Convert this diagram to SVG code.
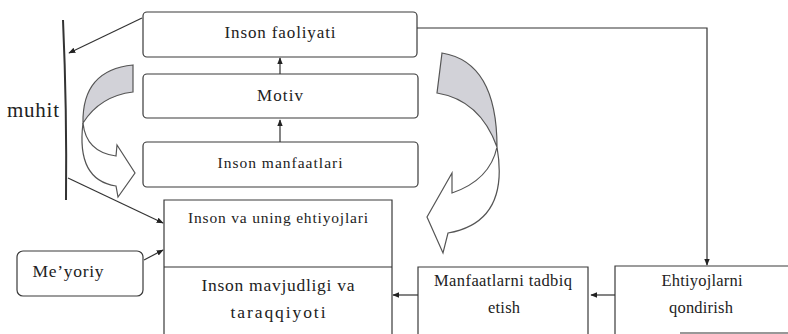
<svg xmlns="http://www.w3.org/2000/svg" width="788" height="334" viewBox="0 0 788 334">
<defs>
<style>
.box{fill:#fff;stroke:#3a3a3a;stroke-width:1.2}
.ln{fill:none;stroke:#333;stroke-width:1.2}
.t{font-family:"Liberation Serif","Times New Roman",serif;fill:#222;text-anchor:middle}
.crescent{fill:#d2d2d8;stroke:#555;stroke-width:1.2}
.curv{fill:#fff;stroke:#555;stroke-width:1.2}
</style>
<marker id="ah" viewBox="0 0 10 10" refX="9" refY="5" markerWidth="7" markerHeight="7" orient="auto" markerUnits="userSpaceOnUse">
<path d="M0,1 L10,5 L0,9 Z" fill="#222"/>
</marker>
</defs>
<rect width="788" height="334" fill="#fff"/>

<g id="muhit">
<path d="M63,20 Q67,110 66,200" fill="none" stroke="#333" stroke-width="2"/>
<text class="t" x="33" y="117" font-size="21" textLength="52" lengthAdjust="spacing">muhit</text>
</g>

<g id="inson-faoliyati">
<rect class="box" x="143" y="12" width="274" height="45" rx="4"/>
<text class="t" x="280" y="38" font-size="17" textLength="111" lengthAdjust="spacing">Inson faoliyati</text>
</g>

<g id="motiv">
<rect class="box" x="143" y="74" width="275" height="44" rx="4"/>
<text class="t" x="280" y="101" font-size="17" textLength="46" lengthAdjust="spacing">Motiv</text>
</g>

<g id="inson-manfaatlari">
<rect class="box" x="143" y="142" width="275" height="45" rx="4"/>
<text class="t" x="280" y="168" font-size="15.5" textLength="125" lengthAdjust="spacing">Inson manfaatlari</text>
</g>

<g id="inson-ehtiyojlari">
<path class="box" d="M164,340 L164,200 L392,200 L392,340"/>
<text class="t" x="278" y="223" font-size="15.5" textLength="180" lengthAdjust="spacing">Inson va uning ehtiyojlari</text>
</g>

<g id="inson-mavjudligi">
<line class="ln" x1="164" y1="267" x2="392" y2="267"/>
<text class="t" x="278" y="291" font-size="17.5" textLength="153" lengthAdjust="spacing">Inson mavjudligi va</text>
<text class="t" x="278" y="318" font-size="17.5" textLength="95" lengthAdjust="spacing">taraqqiyoti</text>
</g>

<g id="meyoriy">
<rect class="box" x="17" y="251" width="126" height="45" rx="6"/>
<text class="t" x="68" y="277" font-size="17.5" textLength="71" lengthAdjust="spacing">Meʼyoriy</text>
</g>

<g id="manfaatlarni-tadbiq">
<path class="box" d="M418,340 L418,267 L588,267 L588,340"/>
<text class="t" x="503" y="286" font-size="16.5" textLength="138" lengthAdjust="spacing">Manfaatlarni tadbiq</text>
<text class="t" x="504" y="313" font-size="16.5" textLength="32" lengthAdjust="spacing">etish</text>
</g>

<g id="ehtiyojlarni-qondirish">
<path class="box" d="M615,340 L615,266 L795,266 L795,340"/>
<line class="ln" x1="680" y1="333" x2="788" y2="333"/>
<text class="t" x="702" y="286" font-size="16.5" textLength="81" lengthAdjust="spacing">Ehtiyojlarni</text>
<text class="t" x="701" y="313" font-size="16.5" textLength="64" lengthAdjust="spacing">qondirish</text>
</g>

<g id="curved-arrow-left">
<path class="crescent" d="M133,65 L133,92 Q100,96 83,123 Q82,70 133,65 Z"/>
<path class="curv" d="M83,123 Q86,152 116,156 L117,145 L135,173 L118,197 L116,186 Q76,180 83,123 Z"/>
</g>

<g id="curved-arrow-right">
<path class="crescent" d="M442,53 L437,93 Q480,100 497,147 Q497,62 442,53 Z"/>
<path class="curv" d="M497,147 Q490,180 452,193 L452,173 L427,217 L443,253 L448,233 Q510,222 497,147 Z"/>
</g>

<g id="connectors">
<line class="ln" x1="142" y1="18" x2="69" y2="53" marker-end="url(#ah)"/>
<line class="ln" x1="68" y1="178" x2="163" y2="223" marker-end="url(#ah)"/>
<line class="ln" x1="144" y1="260" x2="163" y2="250" marker-end="url(#ah)"/>
<line class="ln" x1="280" y1="74" x2="280" y2="58" marker-end="url(#ah)"/>
<line class="ln" x1="280" y1="142" x2="280" y2="120" marker-end="url(#ah)"/>
<polyline class="ln" points="417,28 707,28 707,265" marker-end="url(#ah)"/>
<line class="ln" x1="615" y1="295" x2="591" y2="295" marker-end="url(#ah)"/>
<line class="ln" x1="418" y1="295" x2="393" y2="295" marker-end="url(#ah)"/>
</g>
</svg>
